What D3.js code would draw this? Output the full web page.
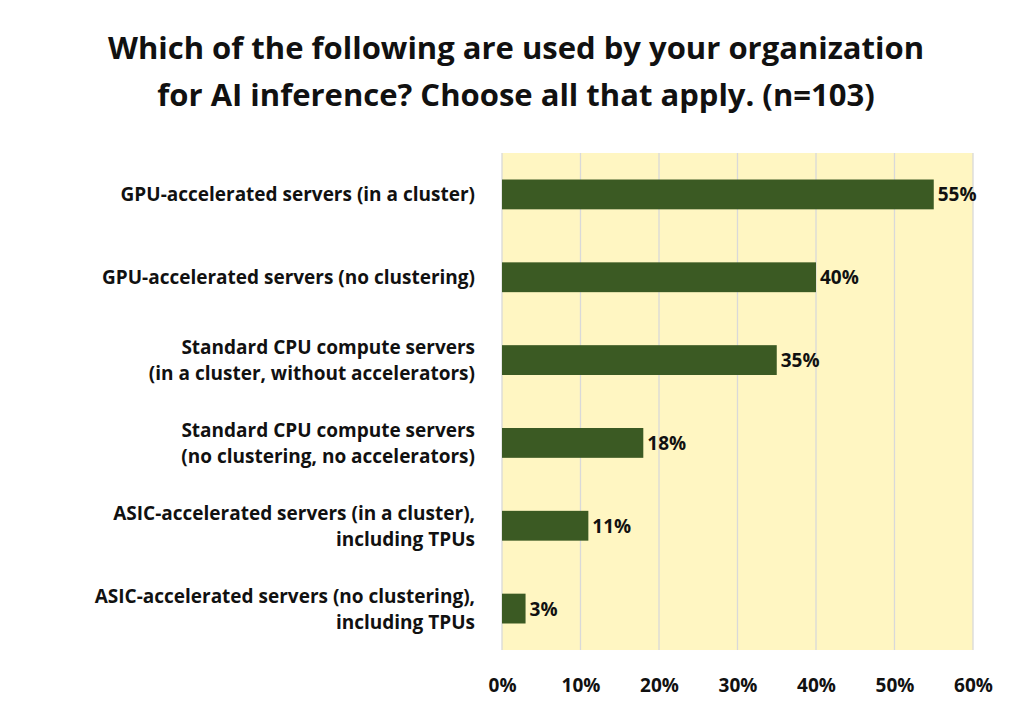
<!DOCTYPE html>
<html><head><meta charset="utf-8">
<script src="https://cdn.jsdelivr.net/npm/d3@7"></script>
<style>body{margin:0;background:#fff;} text{font-family:"Open Sans",sans-serif;font-weight:bold;fill:#111;}</style>
</head><body>
<svg id="chart" width="1031" height="703"></svg>
<script>
var categories = [
    ["GPU-accelerated servers (in a cluster)"],
    ["GPU-accelerated servers (no clustering)"],
    ["Standard CPU compute servers", "(in a cluster, without accelerators)"],
    ["Standard CPU compute servers", "(no clustering, no accelerators)"],
    ["ASIC-accelerated servers (in a cluster),", "including TPUs"],
    ["ASIC-accelerated servers (no clustering),", "including TPUs"]
];
var values = [55, 40, 35, 18, 11, 3];
var ticks = [0, 10, 20, 30, 40, 50, 60];
var titleLines = ["Which of the following are used by your organization", "for AI inference? Choose all that apply. (n=103)"];

var svg = d3.select('#chart');
var pLeft = 502, pRight = 973, pTop = 153, pBottom = 650;

var x = d3.scaleLinear().domain([0, 60]).range([pLeft, pRight]);
var y = d3.scaleBand().domain(d3.range(values.length)).range([pTop, pBottom]).paddingInner(0.64).paddingOuter(0.32);

svg.append('g').selectAll('text')
    .data(titleLines)
    .enter()
    .append('text')
    .attr('x', 516)
    .attr('y', function(d, i) { return 59 + i * 47; })
    .attr('text-anchor', 'middle')
    .style('font-size', '31px')
    .text(function(d) { return d; });

svg.append('rect')
    .attr('x', pLeft).attr('y', pTop)
    .attr('width', pRight - pLeft).attr('height', pBottom - pTop)
    .attr('fill', '#fff6c2');

svg.append('g').selectAll('line')
    .data(ticks)
    .enter()
    .append('line')
    .attr('x1', x).attr('x2', x)
    .attr('y1', pTop).attr('y2', pBottom)
    .attr('stroke', '#d9d9d9')
    .attr('stroke-width', 1.3);

svg.append('g').selectAll('rect')
    .data(values)
    .enter()
    .append('rect')
    .attr('x', x(0))
    .attr('y', function(d, i) { return y(i); })
    .attr('width', function(d) { return x(d) - x(0); })
    .attr('height', y.bandwidth())
    .attr('fill', '#3b5a23');

svg.append('g').selectAll('text')
    .data(values)
    .enter()
    .append('text')
    .attr('x', function(d) { return x(d) + 4; })
    .attr('y', function(d, i) { return y(i) + y.bandwidth() / 2 + 7; })
    .style('font-size', '19px')
    .text(function(d) { return d + '%'; });

var labels = svg.append('g').selectAll('text')
    .data(categories)
    .enter()
    .append('text')
    .attr('text-anchor', 'end')
    .style('font-size', '19px')
    .attr('transform', function(d, i) {
        var c = y(i) + y.bandwidth() / 2 + 7 - (d.length - 1) * 13;
        return 'translate(475,' + c + ')';
    });
labels.selectAll('tspan')
    .data(function(d) { return d; })
    .enter()
    .append('tspan')
    .attr('x', 0)
    .attr('dy', function(d, i) { return i ? 26 : 0; })
    .text(function(d) { return d; });

var axis = d3.axisBottom(x).tickValues(ticks).tickSize(0).tickFormat(function(d) { return d + '%'; });
var ax = svg.append('g').attr('transform', 'translate(0,' + pBottom + ')').call(axis);
ax.select('.domain').remove();
ax.selectAll('text').attr('dy', 0).attr('y', 42).style('font-size', '19px').style('font-family', '"Open Sans",sans-serif').style('font-weight', 'bold').attr('fill', '#111');
</script>
</body></html>
